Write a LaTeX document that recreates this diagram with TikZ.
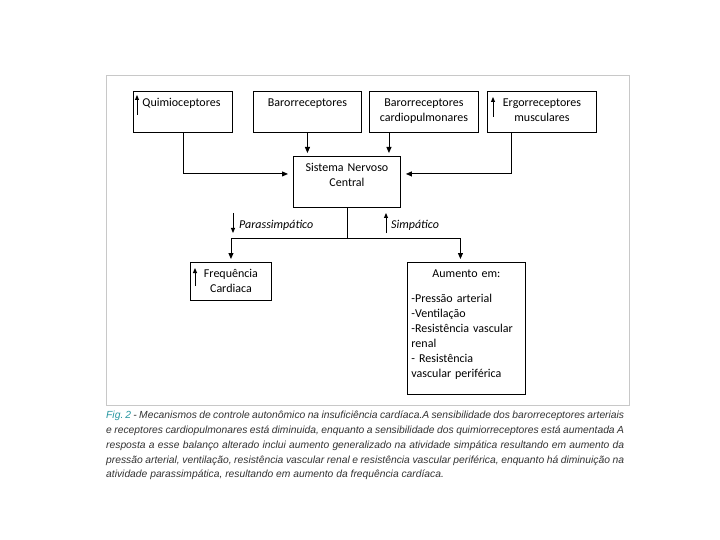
\documentclass[tikz,border=0pt]{standalone}
\usepackage{fontspec}
\setmainfont{Carlito}
\newfontfamily\capfont{Liberation Sans}
\usepackage{tikz}
\usetikzlibrary{arrows.meta,positioning}
\definecolor{figteal}{RGB}{38,150,160}
\definecolor{captext}{RGB}{50,50,50}
\definecolor{framegray}{RGB}{200,200,200}

\begin{document}
\begin{tikzpicture}[x=1pt, y=-1pt,
  box/.style={draw, line width=0.9pt, font=\fontsize{12}{15.5}\selectfont, align=center, inner xsep=3pt, inner ysep=3pt, text height=12pt},
  arrow/.style={-{Triangle[length=6pt,width=5pt]}, line width=0.9pt},
  tinyarrow/.style={-{Triangle[length=5pt,width=4pt]}, line width=0.9pt},
  lbl/.style={font=\fontsize{12}{14}\selectfont\itshape, inner sep=0pt}
]
\useasboundingbox (0,0) rectangle (720,540);
\draw[framegray, line width=0.8pt] (106,75) rectangle (629,405);

\node[box, anchor=north west, text width=93pt, text depth=23pt, align=left] (quimio) at (133,91) {\hspace*{6pt}Quimioceptores};
\node[box, anchor=north west, text width=102pt, text depth=23pt] (baro) at (253,91) {Barorreceptores};
\node[box, anchor=north west, text width=103pt, text depth=23pt] (cardio) at (369,91) {Barorreceptores\\cardiopulmonares};
\node[box, anchor=north west, text width=103pt, text depth=23pt] (ergo) at (487,91) {Ergorreceptores\\musculares};
\node[box, anchor=north west, text width=101pt, text depth=33pt] (snc) at (293,156) {Sistema Nervoso\\Central};
\node[box, anchor=north west, text width=75pt, text depth=20pt] (freq) at (190,262) {Frequência\\Cardiaca};
\node[box, anchor=north west, text width=110pt, inner xsep=4pt, text depth=114pt, align=left, font=\fontsize{12}{15}\selectfont] (aumento) at (407,262)
  {\makebox[\hsize]{Aumento em:}\\[10pt]-Pressão arterial\\-Ventilação\\-Resistência vascular\\renal\\- Resistência\\vascular periférica};

\node[lbl, anchor=west] (parass) at (239,225) {Parassimpático};
\node[lbl, anchor=west] (simp) at (391,225) {Simpático};

\draw[tinyarrow] ([xshift=4pt,yshift=-24pt]quimio.north west) -- ([xshift=4pt,yshift=-4pt]quimio.north west);
\draw[tinyarrow] ([xshift=6pt,yshift=-26pt]ergo.north west) -- ([xshift=6pt,yshift=-6pt]ergo.north west);
\draw[tinyarrow] ([xshift=5pt,yshift=-24pt]freq.north west) -- ([xshift=5pt,yshift=-6pt]freq.north west);
\draw[tinyarrow] ([xshift=-6pt,yshift=12pt]parass.west) -- ([xshift=-6pt,yshift=-8pt]parass.west);
\draw[tinyarrow] ([xshift=-5pt,yshift=-8pt]simp.west) -- ([xshift=-5pt,yshift=12pt]simp.west);

\draw[arrow, shorten >=5pt] (quimio.south) |- ([yshift=8pt]snc.west);
\draw[arrow, shorten >=3pt] (baro.south) -- (baro.south |- snc.north);
\draw[arrow, shorten >=3pt] ([xshift=-35pt]cardio.south) -- ([xshift=-35pt]cardio.south |- snc.north);
\draw[arrow, shorten >=5pt] ([xshift=-31pt]ergo.south) |- ([yshift=8pt]snc.east);

\coordinate (split) at ([yshift=-31pt]snc.south);
\draw[line width=0.9pt] (snc.south) -- (split);
\draw[arrow, shorten >=3pt] (split) -| (freq.north);
\draw[arrow, shorten >=3pt] (split) -| ([xshift=-6pt]aumento.north);

\node[anchor=north west, text width=518pt, align=justify, inner sep=0pt, text=captext, font=\capfont\itshape\fontsize{10.3}{14.8}\selectfont] (caption) at (106,411)
  {\textcolor{figteal}{Fig.\hspace{2pt}2} - Mecanismos de controle autonômico na insuficiência cardíaca.A sensibilidade dos barorreceptores arteriais\linebreak
  e receptores cardiopulmonares está diminuida, enquanto a sensibilidade dos quimiorreceptores está aumentada A\linebreak
  resposta a esse balanço alterado inclui aumento generalizado na atividade simpática resultando em aumento da\linebreak
  pressão arterial, ventilação, resistência vascular renal e resistência vascular periférica, enquanto há diminuição na\linebreak
  atividade parassimpática, resultando em aumento da frequência cardíaca.};
\end{tikzpicture}
\end{document}
